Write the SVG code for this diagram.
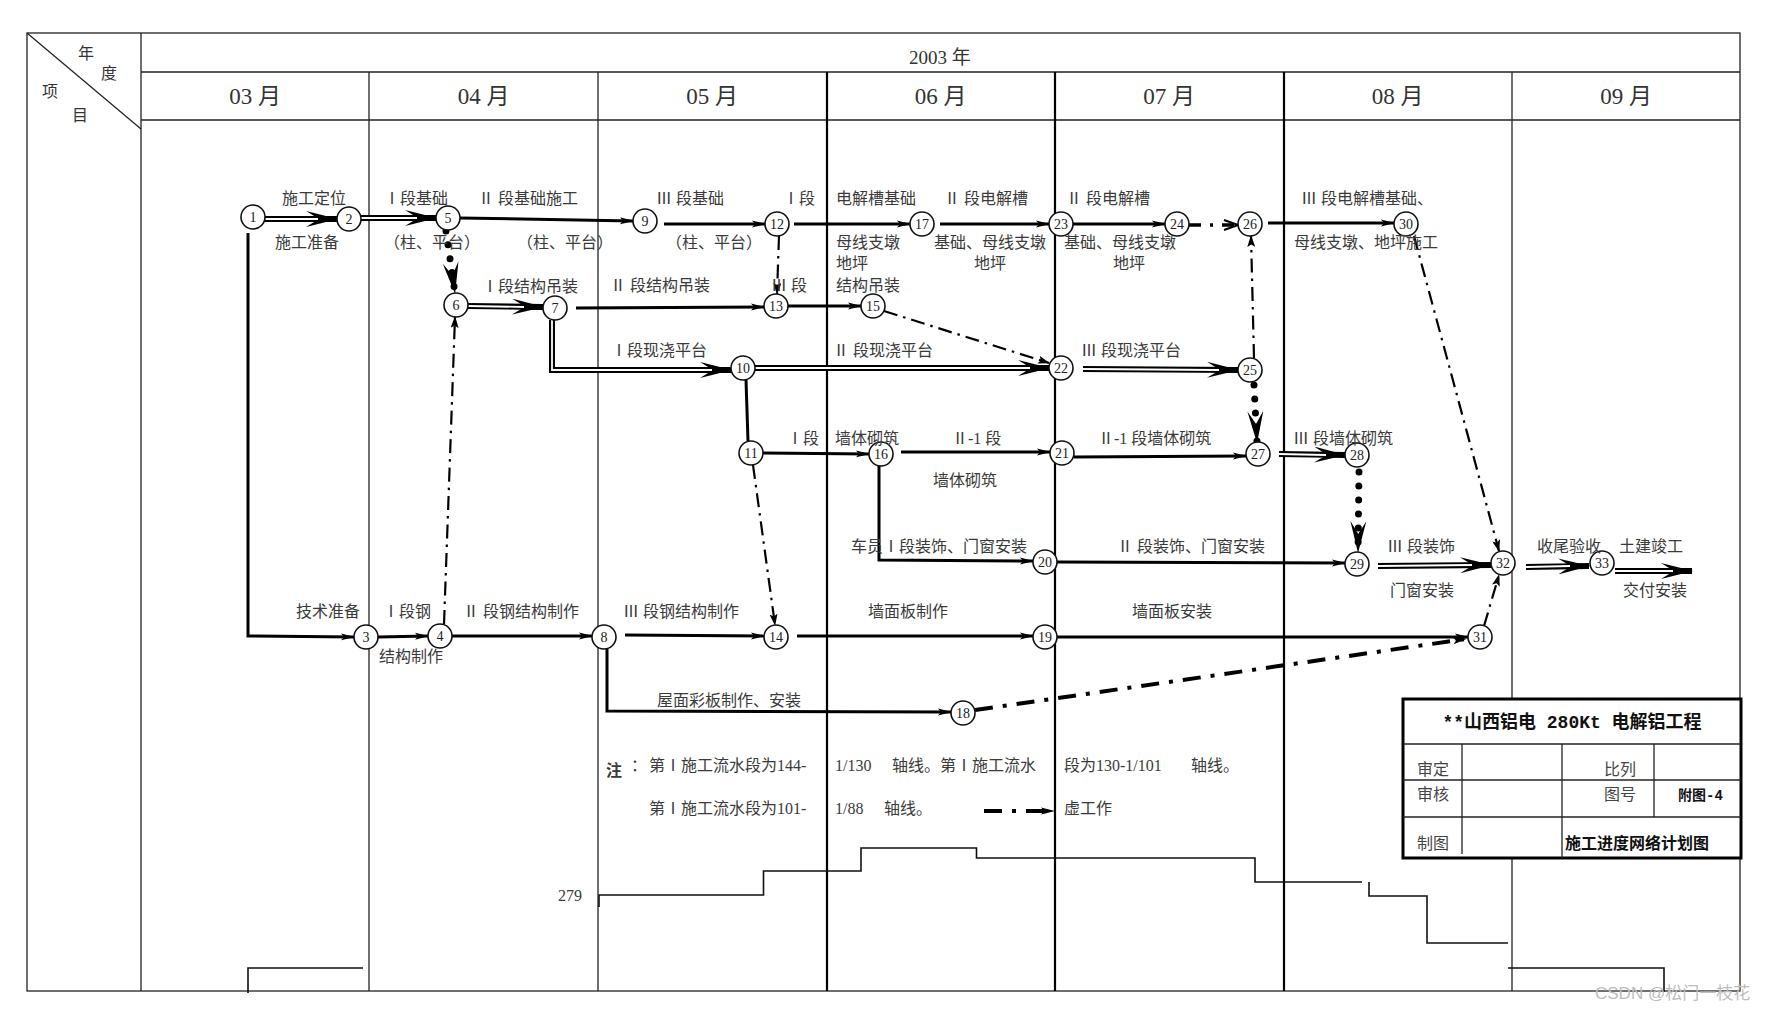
<svg xmlns="http://www.w3.org/2000/svg" width="1781" height="1012" viewBox="0 0 1781 1012">
<style>
.grid{fill:none;stroke:#222;stroke-width:1.3}
.gridk{fill:none;stroke:#000;stroke-width:2.2}
.step{fill:none;stroke:#111;stroke-width:1.6}
.node circle{fill:#fff;stroke:#111;stroke-width:1.6}
.node text{font-family:"Liberation Serif",serif;font-size:14px;text-anchor:middle;fill:#222}
.lbl{font-family:"Liberation Serif","Noto Sans CJK SC",serif;font-size:16px;fill:#3a3a3a}
.hdr{font-family:"Liberation Serif","Noto Sans CJK SC",serif;fill:#333;text-anchor:middle}
.tb{font-family:"Liberation Serif","Noto Sans CJK SC",serif;font-size:16px;fill:#444}
.tbb{font-family:"Liberation Mono","Noto Sans CJK SC",monospace;font-weight:bold;fill:#111}
.sol{fill:none;stroke:#000;stroke-width:3;marker-end:url(#ah)}
.line{fill:none;stroke:#000;stroke-width:3}
.dblo{fill:none;stroke:#000;stroke-width:6;marker-end:url(#bh)}
.dbli{fill:none;stroke:#fff;stroke-width:1.8}
.dot{fill:none;stroke:#000;stroke-width:7;stroke-linecap:round;stroke-dasharray:0 14;marker-end:url(#bh)}
.dd{fill:none;stroke:#000;stroke-width:2.2;stroke-dasharray:14 6 2.5 6;marker-end:url(#dh)}
.ddh{fill:none;stroke:#000;stroke-width:4;stroke-dasharray:18 10 4 10;marker-end:url(#ah)}
</style>
<defs>
<marker id="ah" markerUnits="userSpaceOnUse" markerWidth="14" markerHeight="8" viewBox="0 0 14 8" refX="13" refY="4" orient="auto"><path d="M0,0.5 L14,4 L0,7.5 L3,4 Z" fill="#000"/></marker>
<marker id="bh" markerUnits="userSpaceOnUse" markerWidth="32" markerHeight="16" viewBox="0 0 32 16" refX="31" refY="8" orient="auto"><path d="M0,0 L32,8 L0,16 L13,8 Z" fill="#000"/></marker>
<marker id="dh" markerUnits="userSpaceOnUse" markerWidth="12" markerHeight="8" viewBox="0 0 12 8" refX="11" refY="4" orient="auto"><path d="M0,0 L12,4 L0,8 L2.5,4 Z" fill="#000"/></marker>
<marker id="oh" markerUnits="userSpaceOnUse" markerWidth="16" markerHeight="12" viewBox="0 0 16 12" refX="15" refY="6" orient="auto"><path d="M1,1 L15,6 L1,11" fill="none" stroke="#000" stroke-width="2"/></marker>
</defs>
<rect width="1781" height="1012" fill="#fff"/>

<g id="grid">
<rect class="grid" x="27" y="33" width="1713" height="958"/>
<line class="grid" x1="27" y1="33" x2="141" y2="129"/>
<line class="grid" x1="141" y1="33" x2="141" y2="991"/>
<line class="grid" x1="141" y1="72" x2="1740" y2="72"/>
<line class="grid" x1="141" y1="120" x2="1740" y2="120"/>
<line class="grid" x1="369" y1="72" x2="369" y2="991"/>
<line class="grid" x1="598" y1="72" x2="598" y2="991"/>
<line class="gridk" x1="827" y1="72" x2="827" y2="991"/>
<line class="gridk" x1="1055" y1="72" x2="1055" y2="991"/>
<line class="gridk" x1="1284" y1="72" x2="1284" y2="991"/>
<line class="grid" x1="1512" y1="72" x2="1512" y2="991"/>
</g>

<g id="header">
<text class="hdr" x="86" y="59" font-size="16">年</text>
<text class="hdr" x="109" y="79" font-size="16">度</text>
<text class="hdr" x="50" y="97" font-size="16">项</text>
<text class="hdr" x="80" y="121" font-size="16">目</text>
<text class="hdr" x="940" y="64" font-size="19">2003 年</text>
<text class="hdr" x="255" y="104" font-size="23">03 月</text>
<text class="hdr" x="483.5" y="104" font-size="23">04 月</text>
<text class="hdr" x="712" y="104" font-size="23">05 月</text>
<text class="hdr" x="940.5" y="104" font-size="23">06 月</text>
<text class="hdr" x="1169" y="104" font-size="23">07 月</text>
<text class="hdr" x="1397.5" y="104" font-size="23">08 月</text>
<text class="hdr" x="1626" y="104" font-size="23">09 月</text>
</g>

<g id="chart">
<path class="step" d="M599,907 L599,895 L763.5,895 L763.5,871 L861,871 L861,848 L976.5,848 L976.5,858 L1255,858 L1255,882 L1362,882"/>
<path class="step" d="M1369,882 L1369,896 L1427,896 L1427,943 L1508,943"/>
<path class="step" d="M1508,968 L1664,968 L1664,992"/>
<path class="step" d="M248,993 L248,968 L363,968"/>
<text class="lbl" x="558" y="901" font-size="14">279</text>
</g>

<g id="connectors">
<path class="dblo" d="M265,219 L337,219"/><path class="dbli" d="M265,219 L318,219"/>
<path class="dblo" d="M361,218 L436,218"/><path class="dbli" d="M361,218 L417,218"/>
<path class="dblo" d="M468,306 L543,307"/><path class="dbli" d="M468,306 L524,307"/>
<path class="dblo" d="M552,320 L552,370 L731,370"/><path class="dbli" d="M552,320 L552,370 L712,370"/>
<path class="dblo" d="M755,368 L1049,368"/><path class="dbli" d="M755,368 L1030,368"/>
<path class="dblo" d="M1083,369 L1238,370"/><path class="dbli" d="M1083,369 L1219,370"/>
<path class="dblo" d="M1279,454 L1345,455"/><path class="dbli" d="M1279,454 L1326,455"/>
<path class="dblo" d="M1378,566 L1491,565"/><path class="dbli" d="M1378,566 L1472,565"/>
<path class="dblo" d="M1526,567 L1589,566"/><path class="dbli" d="M1526,567 L1570,566"/>
<path class="dblo" d="M1615,571 L1692,571"/><path class="dbli" d="M1615,571 L1673,571"/>
<path class="sol" d="M460,218 L633,221"/>
<path class="sol" d="M664,224 L765,224"/>
<path class="sol" d="M794,224 L910,224"/>
<path class="sol" d="M940,224 L1049,224"/>
<path class="sol" d="M1073,224 L1165,224"/>
<path class="sol" d="M1268,223 L1394,223"/>
<path class="sol" d="M576,308 L764,307"/>
<path class="sol" d="M788,306 L861,306"/>
<path class="sol" d="M763,453 L869,454"/>
<path class="sol" d="M901,452 L1050,452"/>
<path class="sol" d="M1074,457 L1246,456"/>
<path class="sol" d="M879,466 L879,560 L1033,561"/>
<path class="sol" d="M1057,562 L1345,563"/>
<path class="sol" d="M248,233 L248,636 L354,637"/>
<path class="sol" d="M378,637 L428,636"/>
<path class="sol" d="M452,636 L592,636"/>
<path class="sol" d="M625,635 L764,636"/>
<path class="sol" d="M797,636 L1033,636"/>
<path class="sol" d="M1057,637 L1468,637"/>
<path class="sol" d="M607,649 L607,711 L951,712"/>
<path class="line" d="M746,380 L748,441"/>
<path class="dot" d="M446,231 L455,293"/>
<path class="dot" d="M1254,385 L1257,442"/>
<path class="dot" d="M1359,472 L1358,552"/>
<path class="dd" d="M444,624 L455,317"/>
<path class="dd" d="M779,236 L777,294"/>
<path class="dd" d="M884,311 L1049,363"/>
<path class="dd" d="M753,465 L775,625"/>
<path class="dd" d="M1254,358 L1251,236"/>
<path class="dd" d="M1414,236 L1499,551"/>
<path class="dd" d="M1484,626 L1499,575"/>
<path d="M1189,225 L1238,225" fill="none" stroke="#000" stroke-width="3.5" stroke-dasharray="12 9 3 9" marker-end="url(#oh)"/>
<path class="ddh" d="M975,710 L1466,639"/>
<path class="ddh" d="M984,811 L1054,811"/>
</g>

<g id="nodes">
<g id="n1" class="node"><circle cx="253" cy="217" r="12"/><text x="253" y="222">1</text></g>
<g id="n2" class="node"><circle cx="349" cy="219" r="12"/><text x="349" y="224">2</text></g>
<g id="n3" class="node"><circle cx="366" cy="637" r="12"/><text x="366" y="642">3</text></g>
<g id="n4" class="node"><circle cx="440" cy="636" r="12"/><text x="440" y="641">4</text></g>
<g id="n5" class="node"><circle cx="448" cy="218" r="12"/><text x="448" y="223">5</text></g>
<g id="n6" class="node"><circle cx="456" cy="305" r="12"/><text x="456" y="310">6</text></g>
<g id="n7" class="node"><circle cx="555" cy="308" r="12"/><text x="555" y="313">7</text></g>
<g id="n8" class="node"><circle cx="604" cy="637" r="12"/><text x="604" y="642">8</text></g>
<g id="n9" class="node"><circle cx="645" cy="221" r="12"/><text x="645" y="226">9</text></g>
<g id="n10" class="node"><circle cx="743" cy="368" r="12"/><text x="743" y="373">10</text></g>
<g id="n11" class="node"><circle cx="751" cy="453" r="12"/><text x="751" y="458">11</text></g>
<g id="n12" class="node"><circle cx="777" cy="224" r="12"/><text x="777" y="229">12</text></g>
<g id="n13" class="node"><circle cx="776" cy="306" r="12"/><text x="776" y="311">13</text></g>
<g id="n14" class="node"><circle cx="776" cy="637" r="12"/><text x="776" y="642">14</text></g>
<g id="n15" class="node"><circle cx="873" cy="306" r="12"/><text x="873" y="311">15</text></g>
<g id="n16" class="node"><circle cx="881" cy="454" r="12"/><text x="881" y="459">16</text></g>
<g id="n17" class="node"><circle cx="922" cy="224" r="12"/><text x="922" y="229">17</text></g>
<g id="n18" class="node"><circle cx="963" cy="713" r="12"/><text x="963" y="718">18</text></g>
<g id="n19" class="node"><circle cx="1045" cy="637" r="12"/><text x="1045" y="642">19</text></g>
<g id="n20" class="node"><circle cx="1045" cy="562" r="12"/><text x="1045" y="567">20</text></g>
<g id="n21" class="node"><circle cx="1062" cy="453" r="12"/><text x="1062" y="458">21</text></g>
<g id="n22" class="node"><circle cx="1061" cy="368" r="12"/><text x="1061" y="373">22</text></g>
<g id="n23" class="node"><circle cx="1061" cy="224" r="12"/><text x="1061" y="229">23</text></g>
<g id="n24" class="node"><circle cx="1177" cy="224" r="12"/><text x="1177" y="229">24</text></g>
<g id="n25" class="node"><circle cx="1250" cy="370" r="12"/><text x="1250" y="375">25</text></g>
<g id="n26" class="node"><circle cx="1250" cy="224" r="12"/><text x="1250" y="229">26</text></g>
<g id="n27" class="node"><circle cx="1258" cy="454" r="12"/><text x="1258" y="459">27</text></g>
<g id="n28" class="node"><circle cx="1357" cy="455" r="12"/><text x="1357" y="460">28</text></g>
<g id="n29" class="node"><circle cx="1357" cy="564" r="12"/><text x="1357" y="569">29</text></g>
<g id="n30" class="node"><circle cx="1406" cy="224" r="12"/><text x="1406" y="229">30</text></g>
<g id="n31" class="node"><circle cx="1480" cy="637" r="12"/><text x="1480" y="642">31</text></g>
<g id="n32" class="node"><circle cx="1503" cy="563" r="12"/><text x="1503" y="568">32</text></g>
<g id="n33" class="node"><circle cx="1602" cy="563" r="12"/><text x="1602" y="568">33</text></g>
</g>

<g id="labels">
<text class="lbl" x="282" y="204">施工定位</text>
<text class="lbl" x="275" y="247.5">施工准备</text>
<text class="lbl" x="384" y="204">Ⅰ段基础</text>
<text class="lbl" x="478" y="204">Ⅱ 段基础施工</text>
<text class="lbl" x="384" y="247.5">（柱、平台）</text>
<text class="lbl" x="517" y="247.5">（柱、平台）</text>
<text class="lbl" x="656" y="204">Ⅲ 段基础</text>
<text class="lbl" x="666" y="247.5">（柱、平台）</text>
<text class="lbl" x="783" y="204">Ⅰ段</text>
<text class="lbl" x="836" y="204">电解槽基础</text>
<text class="lbl" x="944" y="204">Ⅱ 段电解槽</text>
<text class="lbl" x="1066" y="204">Ⅱ 段电解槽</text>
<text class="lbl" x="1301" y="204">Ⅲ 段电解槽基础、</text>
<text class="lbl" x="836" y="247.5">母线支墩</text>
<text class="lbl" x="836" y="269">地坪</text>
<text class="lbl" x="934" y="247.5">基础、母线支墩</text>
<text class="lbl" x="974" y="269">地坪</text>
<text class="lbl" x="1064" y="247.5">基础、母线支墩</text>
<text class="lbl" x="1113" y="269">地坪</text>
<text class="lbl" x="1294" y="247.5">母线支墩、地坪施工</text>
<text class="lbl" x="482" y="292">Ⅰ段结构吊装</text>
<text class="lbl" x="610" y="291">Ⅱ 段结构吊装</text>
<text class="lbl" x="771" y="291">Ⅲ 段</text>
<text class="lbl" x="836" y="291">结构吊装</text>
<text class="lbl" x="611" y="356">Ⅰ段现浇平台</text>
<text class="lbl" x="833" y="356">Ⅱ 段现浇平台</text>
<text class="lbl" x="1081" y="356">Ⅲ 段现浇平台</text>
<text class="lbl" x="787" y="444">Ⅰ段</text>
<text class="lbl" x="835" y="444">墙体砌筑</text>
<text class="lbl" x="952" y="444">Ⅱ-1 段</text>
<text class="lbl" x="933" y="486">墙体砌筑</text>
<text class="lbl" x="1098" y="444">Ⅱ-1 段墙体砌筑</text>
<text class="lbl" x="1293" y="444">Ⅲ 段墙体砌筑</text>
<text class="lbl" x="851" y="552">车员Ⅰ段装饰、门窗安装</text>
<text class="lbl" x="1117" y="552">Ⅱ 段装饰、门窗安装</text>
<text class="lbl" x="1387" y="552">Ⅲ 段装饰</text>
<text class="lbl" x="1390" y="595.5">门窗安装</text>
<text class="lbl" x="1537" y="552">收尾验收</text>
<text class="lbl" x="1619" y="552">土建竣工</text>
<text class="lbl" x="1623" y="595.5">交付安装</text>
<text class="lbl" x="296" y="617">技术准备</text>
<text class="lbl" x="383" y="617">Ⅰ段钢</text>
<text class="lbl" x="463" y="617">Ⅱ 段钢结构制作</text>
<text class="lbl" x="379" y="661.5">结构制作</text>
<text class="lbl" x="623" y="617">Ⅲ 段钢结构制作</text>
<text class="lbl" x="868" y="617">墙面板制作</text>
<text class="lbl" x="1132" y="617">墙面板安装</text>
<text class="lbl" x="657" y="705.5">屋面彩板制作、安装</text>
</g>

<g id="notes">
<text class="lbl" x="606" y="776" font-size="25" font-weight="bold" fill="#222">注</text>
<text class="lbl" x="631" y="771" font-size="13">：</text>
<text class="lbl" x="649" y="771">第Ⅰ施工流水段为144-</text>
<text class="lbl" x="835" y="771">1/130</text>
<text class="lbl" x="892" y="771">轴线。第Ⅰ施工流水</text>
<text class="lbl" x="1064" y="771">段为130-1/101</text>
<text class="lbl" x="1191" y="771">轴线。</text>
<text class="lbl" x="649" y="814">第Ⅰ施工流水段为101-</text>
<text class="lbl" x="835" y="814">1/88</text>
<text class="lbl" x="884" y="814">轴线。</text>
<text class="lbl" x="1064" y="814">虚工作</text>
</g>

<g id="titleblock">
<rect x="1403" y="699" width="338" height="159" fill="#fff" stroke="#000" stroke-width="3"/>
<line class="grid" x1="1403" y1="744" x2="1741" y2="744"/>
<line class="grid" x1="1403" y1="780" x2="1741" y2="780"/>
<line class="grid" x1="1403" y1="817" x2="1741" y2="817"/>
<line class="grid" x1="1462" y1="744" x2="1462" y2="854"/>
<line class="grid" x1="1562" y1="744" x2="1562" y2="858"/>
<line class="grid" x1="1654" y1="744" x2="1654" y2="817"/>
<text class="tbb" x="1572" y="728" font-size="18" text-anchor="middle">**山西铝电 280Kt 电解铝工程</text>
<text class="tb" x="1417" y="775">审定</text>
<text class="tb" x="1417" y="800">审核</text>
<text class="tb" x="1417" y="849">制图</text>
<text class="tb" x="1604" y="775">比列</text>
<text class="tb" x="1604" y="800">图号</text>
<text class="tbb" x="1678" y="800" font-size="14">附图-4</text>
<text class="tbb" x="1565" y="849" font-size="16">施工进度网络计划图</text>
</g>

<text x="1595" y="999" font-family="Liberation Sans,Noto Sans CJK SC,sans-serif" font-size="17" fill="#bdbdbd">CSDN @松门一枝花</text>
</svg>
